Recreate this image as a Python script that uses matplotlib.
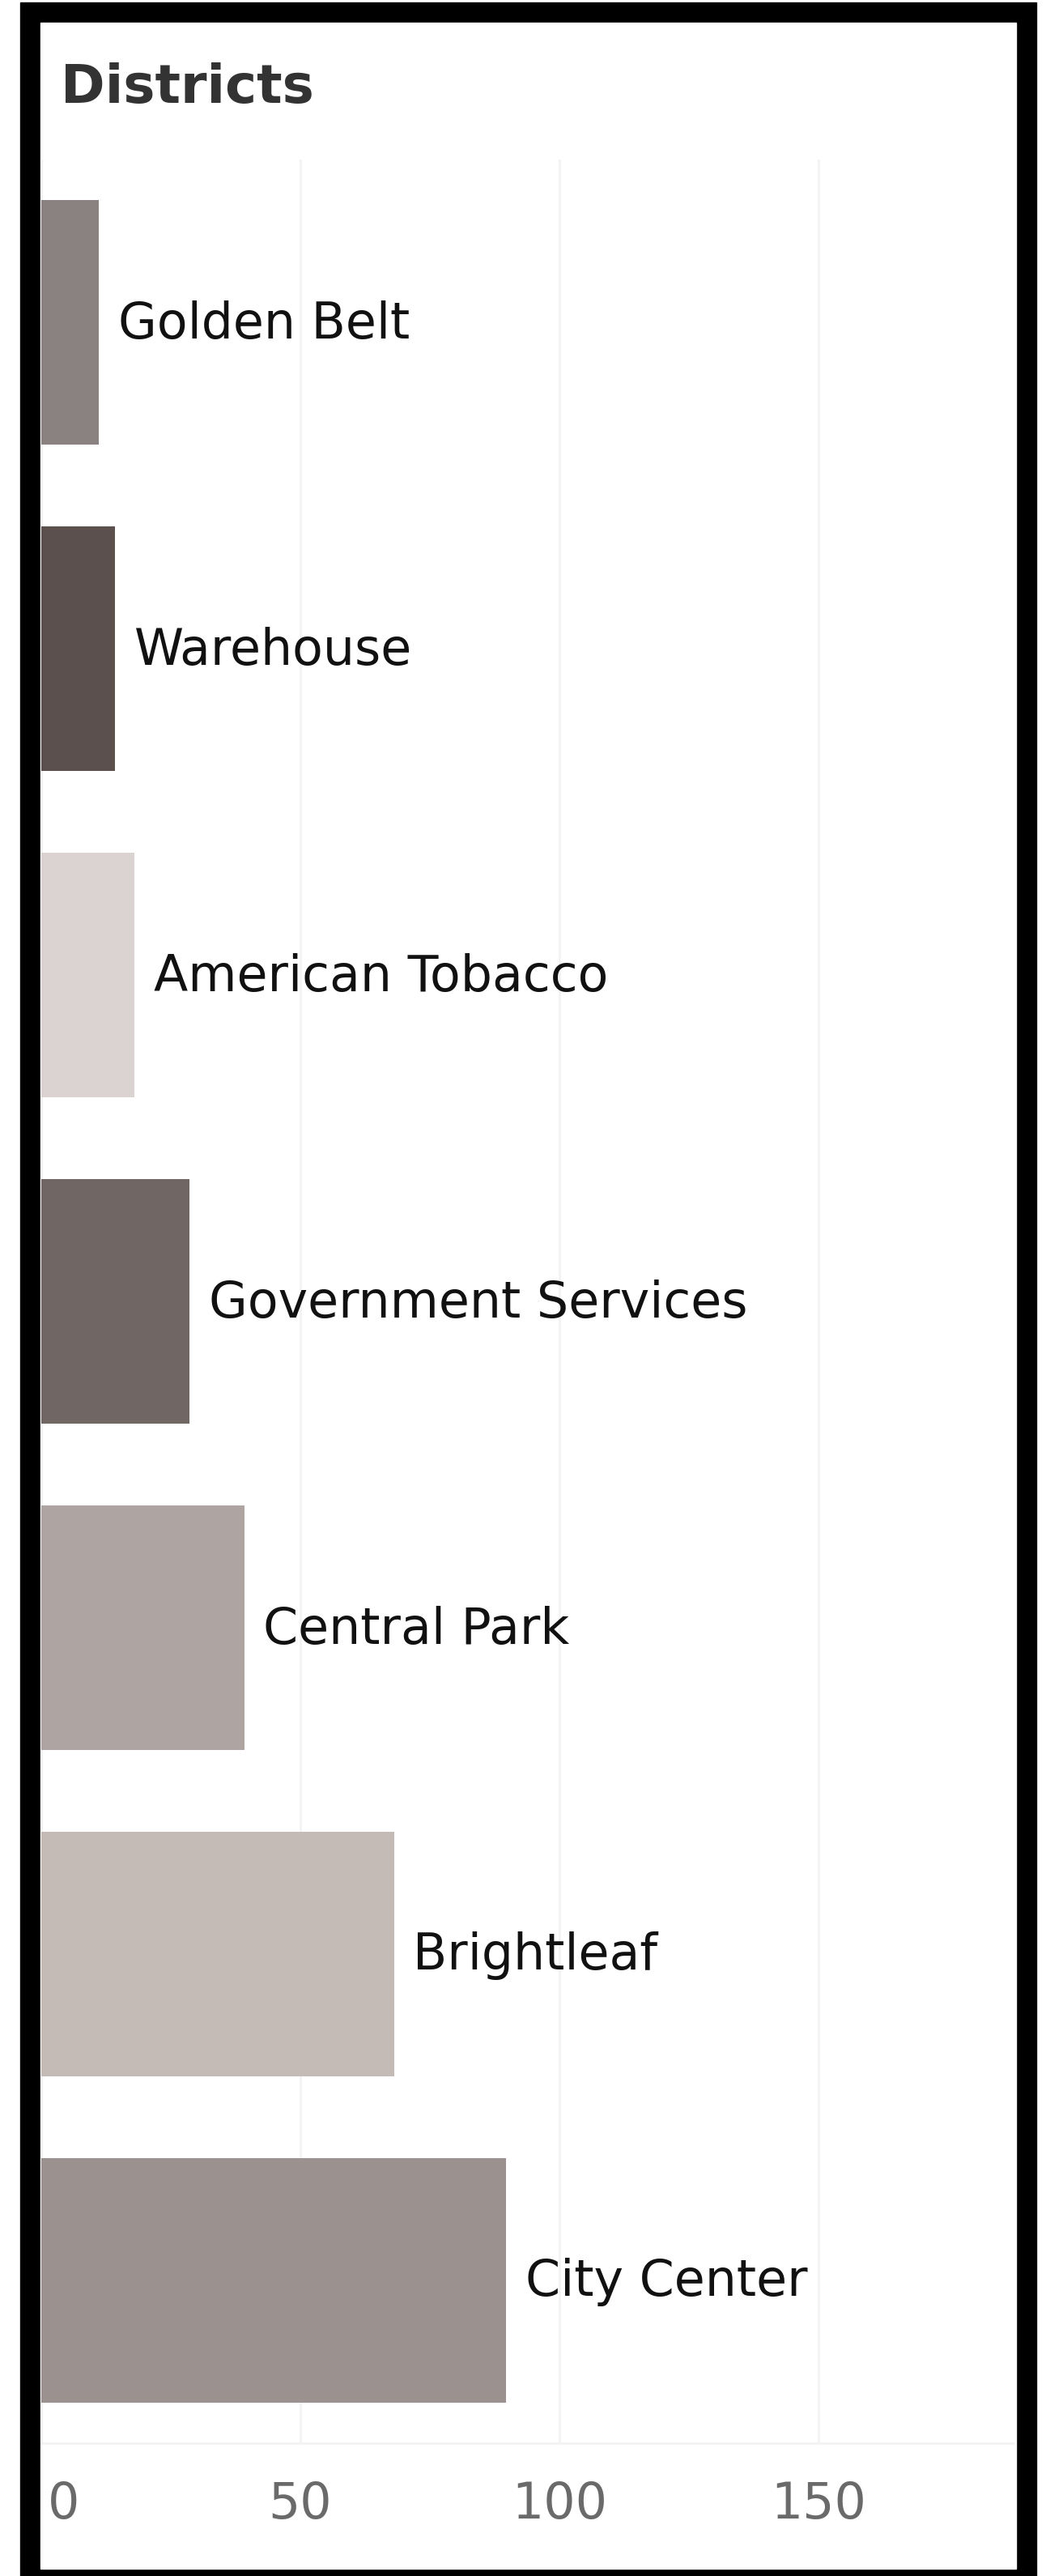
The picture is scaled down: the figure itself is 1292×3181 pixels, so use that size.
import matplotlib
matplotlib.use('Agg')
import matplotlib.pyplot as plt
import matplotlib.transforms as mtransforms
from matplotlib.patches import Rectangle

# data
districts = ['Golden Belt', 'Warehouse', 'American Tobacco', 'Government Services',
             'Central Park', 'Brightleaf', 'City Center']
values = [11.1, 14.2, 18.0, 28.6, 39.2, 68.1, 89.7]
colors = ['#8a8280', '#5b504e', '#dbd3d1', '#706664', '#aea4a2', '#c4bbb7', '#9b918e']
xticks = [0, 50, 100, 150]

W, H = 1292, 3181
fig = plt.figure(figsize=(W / 100, H / 100), dpi=100)
fig.patch.set_facecolor('white')

# black frame round the whole thing
fig.add_artist(Rectangle((25 / W, 0), (1280 - 25) / W, 1 - 3 / H,
                         transform=fig.transFigure, color='black', zorder=0))
fig.add_artist(Rectangle((50 / W, 1 - 3172 / H), (1255 - 50) / W, (3172 - 28) / H,
                         transform=fig.transFigure, color='white', zorder=0))

ax = fig.add_axes([51 / W, 1 - 3017 / H, (1252 - 51) / W, (3017 - 197) / H])
ax.set_facecolor('none')

ypos = list(range(len(districts)))
ax.barh(ypos, values, height=0.75, color=colors, zorder=2)
ax.set_ylim(len(districts) - 0.5, -0.5)
ax.set_xlim(0, 187.7)

for i, (name, v) in enumerate(zip(districts, values)):
    ax.annotate(name, xy=(v, i), xytext=(17, -2), textcoords='offset points',
                ha='left', va='center', fontsize=44.5, color='#111111')

ax.set_yticks([])
ax.set_xticks(xticks)
ax.set_xticklabels([str(t) for t in xticks])
ax.tick_params(axis='x', length=0, pad=33, labelsize=44.5, labelcolor='#6a6a6a')
ax.grid(axis='x', color='#f3f3f3', linewidth=2, zorder=0)
for side in ['top', 'right', 'left']:
    ax.spines[side].set_visible(False)
ax.spines['bottom'].set_color('#f3f3f3')
ax.spines['bottom'].set_linewidth(2)

# the 0 label sits a little right of its tick so it clears the frame
lbl0 = ax.get_xticklabels()[0]
lbl0.set_transform(lbl0.get_transform() + mtransforms.ScaledTranslation(0.28, 0, fig.dpi_scale_trans))

fig.text(75 / W, 1 - 127 / H, 'Districts', fontsize=47.5, fontweight='bold',
         color='#333333', ha='left', va='baseline')

fig.savefig('out.png', dpi=100)
